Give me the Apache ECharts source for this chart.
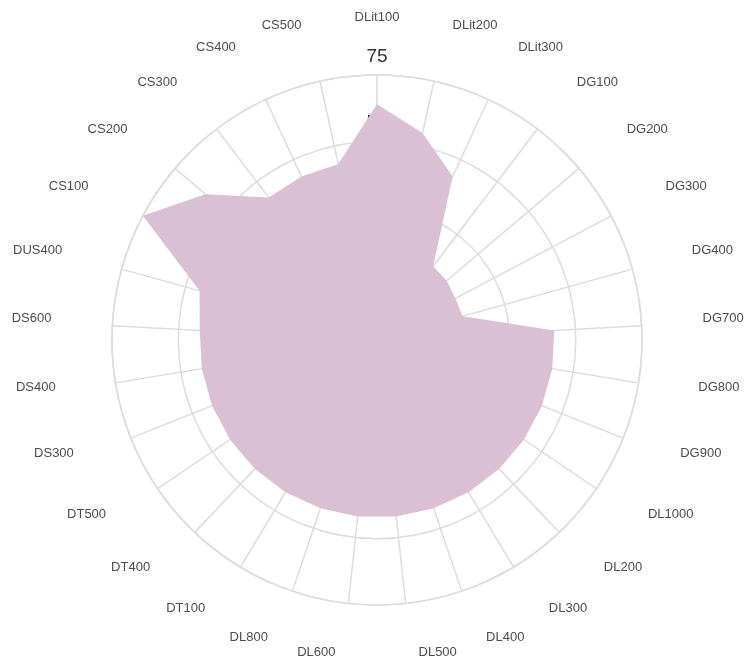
<!DOCTYPE html>
<html>
<head>
<meta charset="utf-8">
<script src="https://cdn.jsdelivr.net/npm/echarts@6/dist/echarts.min.js"></script>
<style>
  html, body { margin: 0; padding: 0; background: #fff; }
  #main { width: 747px; height: 664px; }
</style>
</head>
<body>
<div id="main"></div>
<script>
// categories, clockwise from the top
var categories = ['DLit100', 'DLit200', 'DLit300', 'DG100', 'DG200', 'DG300', 'DG400', 'DG700',
  'DG800', 'DG900', 'DL1000', 'DL200', 'DL300', 'DL400', 'DL500', 'DL600', 'DL800', 'DT100',
  'DT400', 'DT500', 'DS300', 'DS400', 'DS600', 'DUS400', 'CS100', 'CS200', 'CS300', 'CS400', 'CS500'];
var values = [64, 55, 43, 10, 9.5, 8.5, 8.5, 42,
  42, 42, 42, 42, 42, 42, 42, 42, 42, 42,
  42, 42, 42, 42, 42, 44.5, 75, 60, 42.5, 43, 43];
// radial scale
var rMin = -25, rMax = 75, rStep = 25;

var cx = 377, cy = 340, R = 265;
var labelR = 319;          // distance of the category labels
var axisR = labelR - 40;   // where echarts anchors them, padding pushes them out
var fontSize = 13, lineH = 14;
var n = categories.length;

// work out a padding for each label so it sits like in the picture
var ctx = document.createElement('canvas').getContext('2d');
ctx.font = fontSize + 'px "Liberation Sans"';
var rich = {};
categories.forEach(function (name, i) {
  var a = i * 2 * Math.PI / n, s = Math.sin(a), c = Math.cos(a);
  var w = ctx.measureText(name).width;
  var ha = Math.abs(axisR * s) / R < 0.3 ? 'center' : (s > 0 ? 'left' : 'right');
  var va = Math.abs(axisR * c) / R < 0.3 ? 'middle' : (c < 0 ? 'top' : 'bottom');
  var ex = axisR * s + (ha == 'left' ? w / 2 : ha == 'right' ? -w / 2 : 0);
  var ey = -axisR * c + (va == 'top' ? lineH / 2 : va == 'bottom' ? -lineH / 2 : 0);
  var side = Math.abs(s) < 0.01 ? 0 : (s > 0 ? 1 : -1);
  var dx = labelR * s + side * (w / 2 + 7) - ex;
  var dy = -labelR * c - 4 - ey;
  var p = [0, 0, 0, 0];
  if (ha == 'left') p[3] = Math.max(dx, 0);
  else if (ha == 'right') p[1] = Math.max(-dx, 0);
  else if (dx > 0) p[3] = 2 * dx; else p[1] = -2 * dx;
  if (va == 'top') p[0] = Math.max(dy, 0);
  else if (va == 'bottom') p[2] = Math.max(-dy, 0);
  else if (dy > 0) p[0] = 2 * dy; else p[2] = -2 * dy;
  rich['p' + i] = { padding: p.map(Math.round) };
});

var seriesData = values.map(function (v, i) { return [v, i]; });
seriesData.push([values[0], n]); // back to the top to close the shape

var chart = echarts.init(document.getElementById('main'));
var option = {
  backgroundColor: '#fff',
  animation: false,
  polar: { center: [cx, cy], radius: R },
  angleAxis: {
    type: 'value',
    min: 0,
    max: n,
    interval: 1,
    startAngle: 90,
    clockwise: true,
    axisLine: { show: true, lineStyle: { color: '#dcdcdc', width: 1.5 } },
    axisTick: { show: false },
    axisLabel: {
      margin: axisR - R,
      fontSize: fontSize,
      fontFamily: 'Liberation Sans',
      color: '#4d4d4d',
      formatter: function (v) {
        var i = Math.round(v);
        return i < n ? '{p' + i + '|' + categories[i] + '}' : '';
      },
      rich: rich
    },
    splitLine: { show: true, lineStyle: { color: '#dcdcdc', width: 1.5 } }
  },
  radiusAxis: {
    type: 'value',
    min: rMin,
    max: rMax,
    interval: rStep,
    axisLine: { show: false },
    axisTick: { show: false },
    axisLabel: {
      margin: 0,
      align: 'center',
      verticalAlign: 'bottom',
      padding: [0, 0, 9, 0],
      fontSize: 19,
      fontFamily: 'Liberation Sans',
      color: '#333',
      formatter: function (v) { return v < 0 ? '' : String(v); }
    },
    splitLine: { show: true, lineStyle: { color: '#dcdcdc', width: 1.5 } }
  },
  series: [{
    type: 'line',
    coordinateSystem: 'polar',
    data: seriesData,
    symbol: 'none',
    lineStyle: { width: 0 },
    areaStyle: { color: '#dbbfd2', opacity: 1, origin: 'start' },
    z: 5
  }]
};
chart.setOption(option);
</script>
</body>
</html>
